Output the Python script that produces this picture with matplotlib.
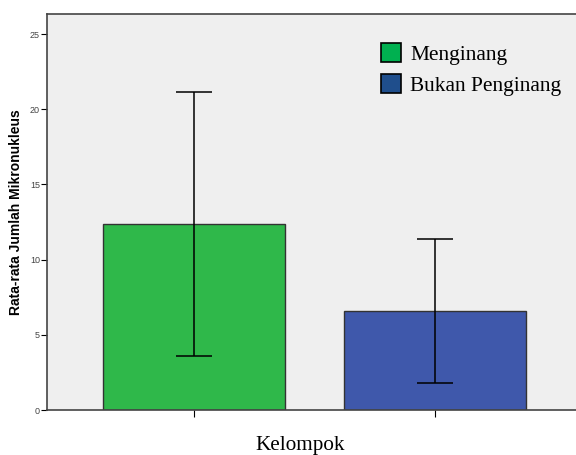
import matplotlib
matplotlib.use("Agg")
import matplotlib.pyplot as plt
from matplotlib.patches import Patch

groups = ["Menginang", "Bukan Penginang"]
means = [12.37, 6.58]
errors = [8.75, 4.8]
bar_colors = ["#2fb84a", "#3f58ab"]
legend_colors = ["#00b050", "#1f4e8c"]
yticks = [0, 5, 10, 15, 20, 25]

W, H = 576, 455
fig = plt.figure(figsize=(W / 100, H / 100), dpi=100)
ax = fig.add_axes([47 / W, 45 / H, 535 / W, 396 / H])
ax.set_facecolor("#efefef")

x = list(range(len(groups)))
ax.bar(x, means, width=0.755, color=bar_colors, edgecolor="#333333", linewidth=1.0, zorder=2)
ax.errorbar(x, means, yerr=errors, fmt="none", ecolor="black", elinewidth=1.1,
            capsize=13.3, capthick=1.1, zorder=3)

ax.set_xlim(-0.61, 1.61)
ax.set_ylim(0, 26.33)
ax.set_yticks(yticks)
ax.set_yticklabels([str(v) for v in yticks], fontsize=6.5, color="#444444",
                   family="Liberation Sans")
ax.set_xticks(x)
ax.set_xticklabels([])
ax.tick_params(axis="y", length=4, width=0.8, pad=1)
ax.tick_params(axis="x", length=5, width=0.8, direction="out")

for s in ["top", "left", "bottom", "right"]:
    ax.spines[s].set_color("#444444")
    ax.spines[s].set_linewidth(1.2)

ax.set_ylabel("Rata-rata Jumlah Mikronukleus", fontsize=10, fontweight="bold",
              family="Liberation Sans", labelpad=5)
fig.text(300 / W, 1 - 450 / H, "Kelompok", fontsize=15.2, family="Liberation Serif",
         ha="center", va="baseline")

handles = [Patch(facecolor=c, edgecolor="black", linewidth=1.2) for c in legend_colors]
leg = ax.legend(handles, groups, loc="upper left", bbox_to_anchor=(0.588, 0.975),
                frameon=False, prop={"family": "Liberation Serif", "size": 15.4},
                handlelength=0.92, handleheight=1.0, handletextpad=0.45,
                labelspacing=0.4)

fig.savefig("out.png", dpi=100, facecolor="white")
